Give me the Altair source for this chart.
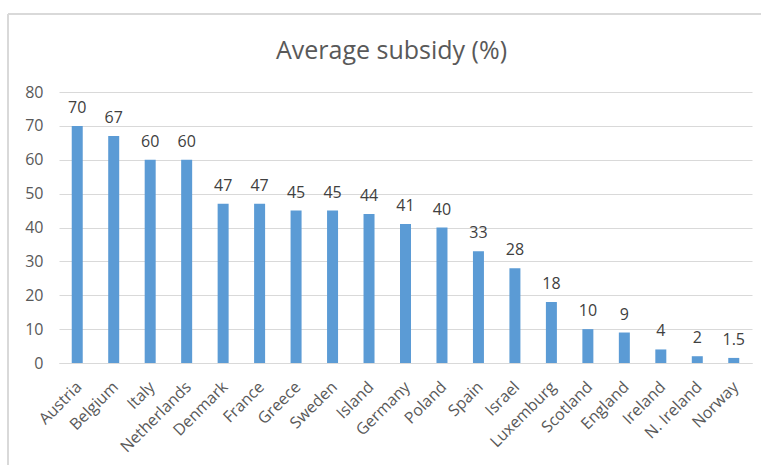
import altair as alt
import pandas as pd

countries = ["Austria", "Belgium", "Italy", "Netherlands", "Denmark", "France", "Greece",
             "Sweden", "Island", "Germany", "Poland", "Spain", "Israel", "Luxemburg",
             "Scotland", "England", "Ireland", "N. Ireland", "Norway"]
subsidy = [70, 67, 60, 60, 47, 47, 45, 45, 44, 41, 40, 33, 28, 18, 10, 9, 4, 2, 1.5]
labels = ["70", "67", "60", "60", "47", "47", "45", "45", "44", "41", "40", "33", "28",
          "18", "10", "9", "4", "2", "1.5"]
y_ticks = [0, 10, 20, 30, 40, 50, 60, 70, 80]

df = pd.DataFrame({"country": countries, "value": subsidy, "label": labels})

FONT = "Open Sans"

x_enc = alt.X("country:N", sort=countries, title=None,
              scale=alt.Scale(paddingInner=0.0, paddingOuter=0.0),
              axis=alt.Axis(labelAngle=-45, labelAlign="right", labelBaseline="middle",
                            labelPadding=21, labelOffset=2, ticks=False, domain=True,
                            domainColor="#d9d9d9", domainWidth=1, grid=False,
                            labelFont=FONT, labelFontSize=16, labelColor="#595959",
                            labelOverlap=False))
y_enc = alt.Y("value:Q", title=None,
              scale=alt.Scale(domain=[0, 80], nice=False),
              axis=alt.Axis(values=y_ticks, ticks=False, domain=False,
                            grid=True, gridColor="#d9d9d9", gridWidth=1,
                            labelPadding=16, labelFont=FONT, labelFontSize=16,
                            labelColor="#595959", labelOverlap=False))

bars = alt.Chart(df).mark_bar(size=11, color="#5B9BD5").encode(x=x_enc, y=y_enc)

text = alt.Chart(df).mark_text(font=FONT, fontSize=16, color="#404040",
                               baseline="alphabetic", dy=-13).encode(
    x=x_enc,
    y=y_enc,
    text="label:N")

frame_top = alt.Chart(df).mark_rule(color="#d9d9d9", strokeWidth=2).encode(
    x=alt.value(-51), x2=alt.value(720), y=alt.value(-78))
frame_left = alt.Chart(df).mark_rule(color="#d9d9d9", strokeWidth=2).encode(
    x=alt.value(-51), y=alt.value(-78), y2=alt.value(400))

chart = alt.layer(frame_top, frame_left, bars, text).properties(
    width=693, height=271,
    title=alt.Title("Average subsidy (%)", font=FONT, fontSize=25, fontWeight="normal",
                    color="#595959", anchor="middle", dx=-14, offset=0, dy=71,
                    baseline="alphabetic", frame="group"),
    autosize=alt.AutoSizeParams(type="none"),
    padding={"left": 59, "top": 92, "right": 9, "bottom": 102},
    background="white",
    view=alt.ViewBackground(stroke="transparent", strokeWidth=0),
).configure_view(stroke="transparent", strokeWidth=0)

chart.save("out.html", embed_options={"renderer": "svg", "actions": False})
